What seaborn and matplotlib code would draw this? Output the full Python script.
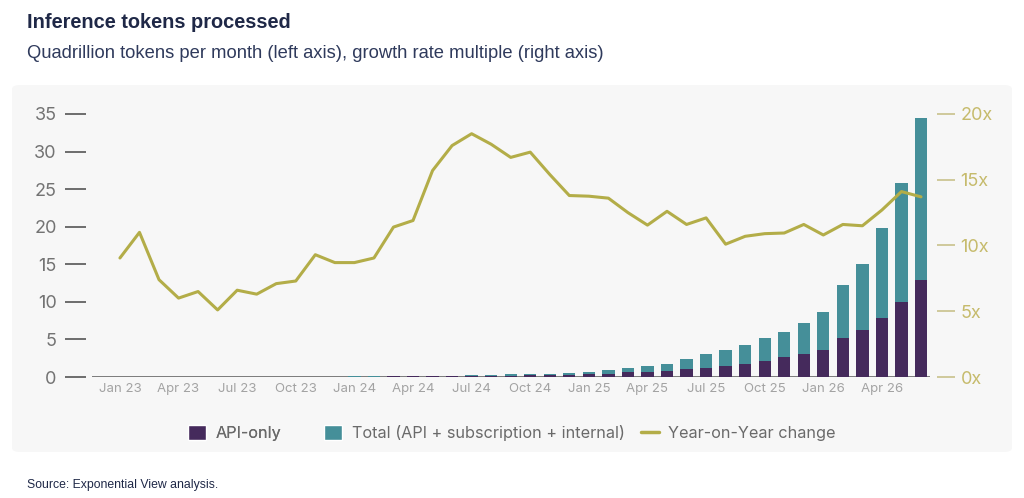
import numpy as np
import pandas as pd
import matplotlib.pyplot as plt
import seaborn as sns
from matplotlib.patches import FancyBboxPatch, Patch
from matplotlib.lines import Line2D

sns.set_style("white")
plt.rcParams["font.family"] = ["Inter", "DejaVu Sans"]

# monthly data, Jan 23 .. Jun 26
months = pd.date_range("2023-01-01", "2026-06-01", freq="MS").strftime("%b %y").tolist()

# quadrillion tokens per month
total = [0, 0, 0, 0, 0, 0, 0, 0, 0, 0, 0, 0,
         0.12, 0.12, 0.13, 0.15, 0.15, 0.17, 0.22, 0.24, 0.38, 0.40, 0.42, 0.58,
         0.70, 0.90, 1.25, 1.40, 1.75, 2.45, 3.10, 3.60, 4.30, 5.15, 6.05, 7.25,
         8.60, 12.2, 15.1, 19.8, 25.8, 34.5]
api_only = [0, 0, 0, 0, 0, 0, 0, 0, 0, 0, 0, 0,
            0.05, 0.06, 0.07, 0.12, 0.12, 0.13, 0.14, 0.15, 0.16, 0.30, 0.30, 0.33,
            0.35, 0.45, 0.60, 0.70, 0.75, 1.00, 1.25, 1.40, 1.70, 2.15, 2.60, 3.10,
            3.65, 5.20, 6.20, 7.90, 10.0, 12.9]
# year-on-year growth multiple
yoy = [9.05, 11.0, 7.4, 6.0, 6.5, 5.1, 6.6, 6.3, 7.1, 7.3, 9.3, 8.7,
       8.7, 9.05, 11.4, 11.9, 15.7, 17.6, 18.5, 17.7, 16.7, 17.1, 15.4, 13.8,
       13.75, 13.6, 12.5, 11.55, 12.6, 11.6, 12.1, 10.1, 10.7, 10.9, 10.95, 11.6,
       10.8, 11.6, 11.5, 12.7, 14.1, 13.7]

df = pd.DataFrame({"month": months, "total": total, "api": api_only, "yoy": yoy})

teal = "#458f99"
purple = "#452a5c"
olive = "#b3ad48"

fig = plt.figure(figsize=(10.24, 4.98), dpi=100)
fig.patch.set_facecolor("white")

# light grey card behind the chart
card = FancyBboxPatch((12 / 1024, 1 - 452 / 498), 1000 / 1024, 367 / 498,
                      boxstyle="round,pad=0,rounding_size=0.008",
                      transform=fig.transFigure, facecolor="#f7f7f7",
                      edgecolor="none", zorder=-10)
fig.patches.append(card)

ax = fig.add_axes([92 / 1024, 121 / 498, 838 / 1024, 263 / 498])
ax.set_facecolor("none")

ax.axhline(0, color="#666666", lw=1.2, zorder=1)
sns.barplot(data=df, x="month", y="total", color=teal, width=0.63,
            saturation=1, linewidth=0, ax=ax, zorder=2)
sns.barplot(data=df, x="month", y="api", color=purple, width=0.63,
            saturation=1, linewidth=0, ax=ax, zorder=3)

ax.set_xlim(-1.43, 41.46)
ax.set_ylim(0, 35)
ax.set_yticks(range(0, 36, 5))
ax.set_xticks(range(0, len(months), 3))
ax.set_xticklabels(months[::3])
ax.set_xlabel("")
ax.set_ylabel("")
for s in ax.spines.values():
    s.set_visible(False)
ax.spines["left"].set_position(("outward", 4))
ax.tick_params(axis="y", left=True, length=15, width=1.2, color="#555555",
               pad=6.5, labelsize=13, labelcolor="#737373")
ax.tick_params(axis="x", length=0, pad=4, labelsize=9.5, labelcolor="#a3a3a3")

ax2 = ax.twinx()
sns.lineplot(x=np.arange(len(yoy)), y=df["yoy"], ax=ax2, color=olive, lw=2.2)
ax2.set_xlim(-1.43, 41.46)
ax2.set_ylim(0, 20)
ax2.set_yticks(range(0, 21, 5))
ax2.set_yticklabels([f"{v}x" for v in range(0, 21, 5)])
ax2.set_ylabel("")
for s in ax2.spines.values():
    s.set_visible(False)
ax2.spines["right"].set_position(("outward", 5))
ax2.tick_params(axis="y", right=True, length=13, width=1.2, color="#c9c28c",
                pad=4, labelsize=13, labelcolor="#c6bb6c")

# legend in two parts to keep the reference spacing
leg_kw = dict(frameon=False, fontsize=11.7, labelcolor="#6a6a6a",
              handlelength=1.1, handleheight=1.1, handletextpad=0.6,
              loc="center")
leg1 = fig.legend(handles=[Patch(facecolor=purple, label="API-only")],
                  bbox_to_anchor=(235 / 1024, 1 - 433 / 498), **leg_kw)
fig.legend(handles=[Patch(facecolor=teal, label="Total (API + subscription + internal)"),
                    Line2D([], [], color=olive, lw=2.5, label="Year-on-Year change")],
           ncol=2, columnspacing=1.0,
           bbox_to_anchor=(580 / 1024, 1 - 433 / 498), **leg_kw)
fig.add_artist(leg1)

fig.text(27 / 1024, 1 - 22 / 498, "Inference tokens processed",
         family=["Liberation Sans", "DejaVu Sans"], fontsize=14.4, weight="bold",
         color="#1f2847", va="center")
fig.text(27 / 1024, 1 - 53 / 498,
         "Quadrillion tokens per month (left axis), growth rate multiple (right axis)",
         family=["Liberation Sans", "DejaVu Sans"], fontsize=13.2,
         color="#2f3a5c", va="center")
fig.text(27 / 1024, 1 - 485 / 498, "Source: Exponential View analysis.",
         family=["Liberation Sans", "DejaVu Sans"], fontsize=8.8,
         color="#1f2847", va="center")

fig.savefig("out.png", dpi=100, facecolor="white")
